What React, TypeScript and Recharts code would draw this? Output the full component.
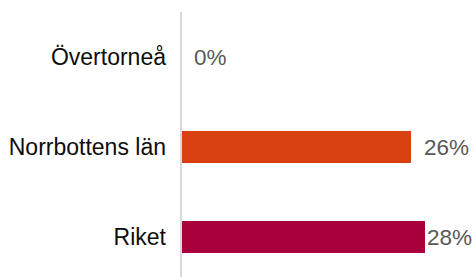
import { Bar, BarChart, Cell, LabelList, XAxis, YAxis } from "recharts";

const categories = ["Övertorneå", "Norrbottens län", "Riket"];
const values = [0, 26.3, 27.9];
const colors = ["#D8400F", "#D8400F", "#A8003A"];

const data = categories.map((name, i) => ({ name, value: values[i] }));

const CHART_W = 474;
const FONT = "Liberation Sans, Arial, sans-serif";

function ValueLabel(props: any) {
  const { x, y, width, height, value } = props;
  const text = `${Math.round(Number(value))}%`;
  // keep label inside the chart, like the original
  const lx = Math.min(x + width + 13, CHART_W - 47);
  return (
    <text
      x={lx}
      y={y + height / 2}
      dominantBaseline="central"
      fill="#595959"
      fontSize={22.5}
      fontFamily={FONT}
    >
      {text}
    </text>
  );
}

export default function App() {
  return (
    <div
      style={{
        position: "fixed",
        left: 0,
        top: 0,
        width: CHART_W,
        height: 277,
        overflow: "hidden",
        background: "#fff",
      }}
    >
      <BarChart
        width={CHART_W}
        height={292}
        data={data}
        layout="vertical"
        margin={{ top: 12, right: 49, bottom: 10, left: 0 }}
      >
        <XAxis type="number" domain={[0, "dataMax"]} hide />
        <YAxis
          type="category"
          dataKey="name"
          width={181}
          tickLine={false}
          tickSize={0}
          tickMargin={15}
          axisLine={{ stroke: "#d9d9d9", strokeWidth: 2 }}
          tick={{ fill: "#0d0d0d", fontSize: 23, fontFamily: FONT }}
        />
        <Bar dataKey="value" barSize={32} minPointSize={0.01} isAnimationActive={false}>
          {data.map((d, i) => (
            <Cell key={d.name} fill={colors[i]} />
          ))}
          <LabelList dataKey="value" content={<ValueLabel />} />
        </Bar>
      </BarChart>
    </div>
  );
}
